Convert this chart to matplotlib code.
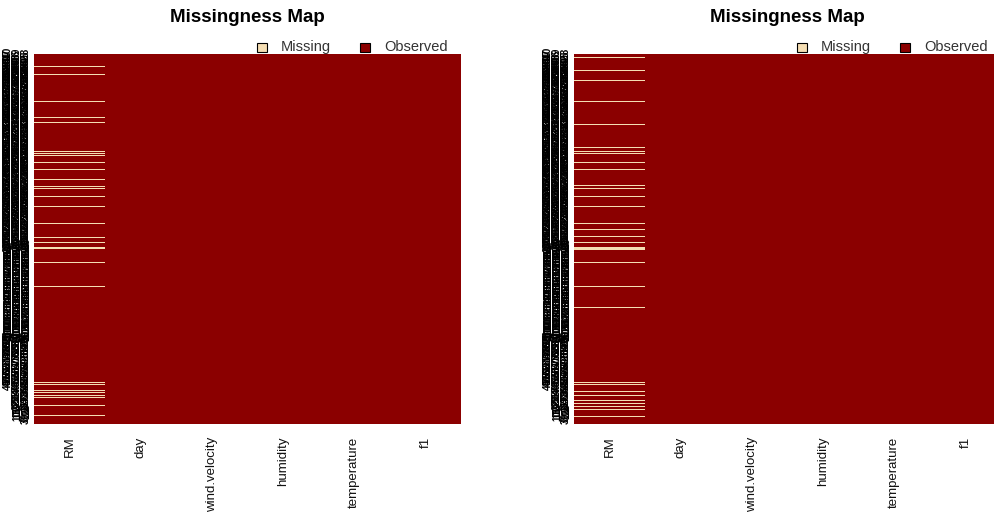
import numpy as np
import matplotlib
matplotlib.use("Agg")
import matplotlib.pyplot as plt
from matplotlib.colors import ListedColormap
from matplotlib.patches import Rectangle

plt.rcParams['font.family'] = ['Liberation Sans', 'DejaVu Sans']

variables = ["RM", "day", "wind.velocity", "humidity", "temperature", "f1"]
n_rows = 410
# rows (counted from the top of the map) where RM is missing
rm_missing_a = [13, 22, 52, 70, 75, 108, 110, 112, 120, 127, 139, 146, 149, 157,
                168, 187, 203, 208, 214, 215, 231, 257, 364, 366, 372, 375, 378,
                380, 389, 394, 400]
rm_missing_b = [3, 18, 29, 52, 78, 103, 108, 110, 120, 127, 145, 149, 157, 168,
                187, 194, 202, 208, 214, 215, 216, 231, 257, 280, 364, 366, 373,
                378, 383, 387, 390, 393, 401]
row_names = [str(i) for i in range(n_rows, 0, -1)]

missing_col = "#F5DEB3"
observed_col = "#8B0000"
cmap = ListedColormap([missing_col, observed_col])

W, H = 994, 516
fig = plt.figure(figsize=(W / 100, H / 100), dpi=100)


def missmap(left, missing_rows):
    ax = fig.add_axes([left / W, 1 - 424 / H, 427 / W, 370 / H])
    z = np.ones((n_rows, len(variables)))
    z[missing_rows, 0] = 0
    xe = np.arange(0.5, 7.0, 1.0)
    ye = np.arange(0.5, n_rows + 1.0, 1.0)
    ax.pcolormesh(xe, ye, z, cmap=cmap, vmin=0, vmax=1, shading="flat",
                  edgecolors="none", antialiased=True)
    ax.set_xlim(0.5, 6.5)
    ax.set_ylim(n_rows + 0.5, 0.5)
    for s in ax.spines.values():
        s.set_visible(False)
    ax.set_xticks(range(1, 7))
    ax.set_xticklabels(variables, rotation=90, fontsize=9.5, va="top",
                       color="#111111")
    ax.tick_params(axis="x", length=0, pad=9)
    ax.set_yticks([])

    # row names, written vertically and stacked in three columns
    trans = matplotlib.transforms.blended_transform_factory(fig.transFigure, ax.transData)
    offs = [left - 26, left - 17, left - 8]
    for i, name in enumerate(row_names):
        c = i % 3
        if c == 0 and i > 368:
            continue
        if c == 1 and i > 402:
            continue
        ax.text(offs[c] / W, i + 1, name, rotation=90, fontsize=7,
                fontweight="bold", ha="center", va="center", transform=trans,
                clip_on=False, color="black")

    cx = left + 427 / 2
    fig.text(cx / W, 1 - 18 / H, "Missingness Map", fontsize=13.5,
             fontweight="bold", ha="center", va="center")
    # legend
    ly = 1 - 47 / H
    for x0, label, col in [(left + 223, "Missing", missing_col),
                           (left + 326, "Observed", observed_col)]:
        fig.patches.append(Rectangle((x0 / W, ly - 5 / H), 10 / W, 9 / H,
                                     transform=fig.transFigure, facecolor=col,
                                     edgecolor="black", linewidth=0.8, zorder=5))
        fig.text((x0 + 24) / W, ly, label, fontsize=10.5, ha="left", va="center",
                 color="#333333", zorder=6)
    return ax


missmap(34, rm_missing_a)
missmap(574, rm_missing_b)

fig.savefig("out.png", dpi=100)
